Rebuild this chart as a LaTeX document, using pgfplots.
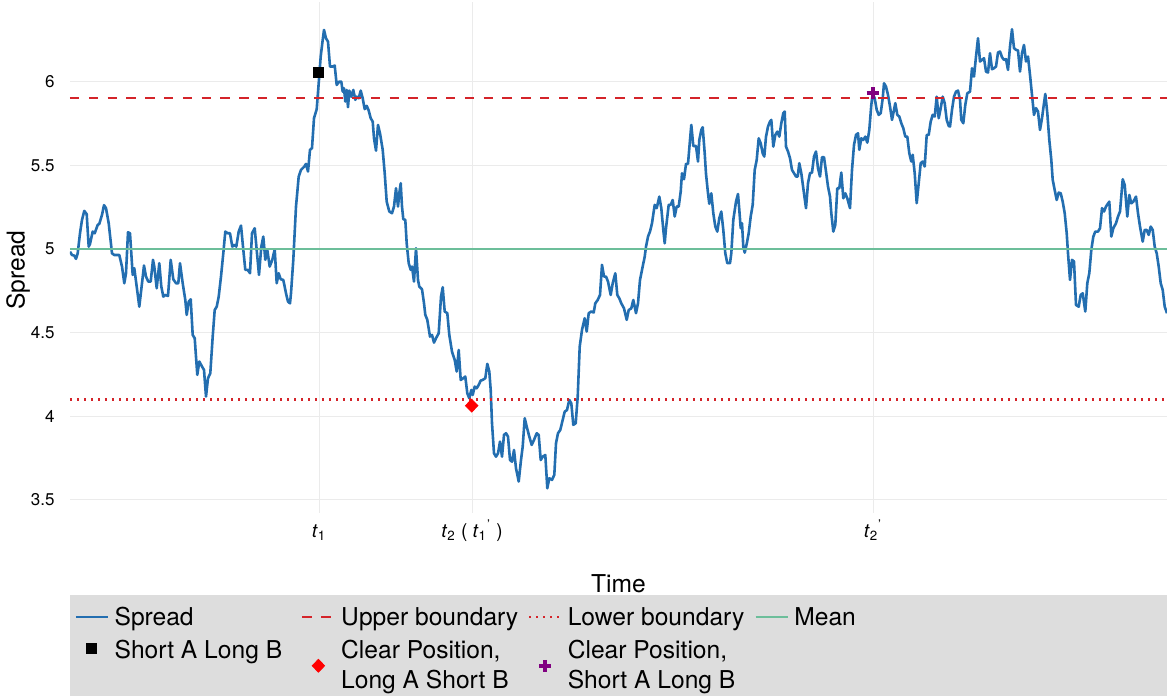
\documentclass[border=0pt]{standalone}
\usepackage{fontspec}
\setmainfont{TeX Gyre Heros}
\usepackage{pgfplots}
\usepackage{pgfplotstable}
\pgfplotsset{compat=1.18}

\definecolor{spreadblue}{RGB}{35,110,176}
\definecolor{bndred}{RGB}{212,36,42}
\definecolor{meangreen}{RGB}{108,190,154}
\definecolor{clearpurple}{RGB}{128,0,128}
\definecolor{legendgray}{RGB}{221,221,221}
\definecolor{gridgray}{RGB}{235,235,235}

% legend keys: lines sit on the text middle, marks above/below the baseline
\pgfplotsset{
  keyline/.style={legend image code/.code={\draw[##1, line width=0.8pt] (0pt,4.3pt) -- (16pt,4.3pt);}},
  keymarkhi/.style={legend image code/.code={\path (0pt,0pt) (16pt,0pt); \draw[##1] plot coordinates {(8pt,5pt)};}},
  keymarklo/.style={legend image code/.code={\path (0pt,0pt) (16pt,0pt); \draw[##1] plot coordinates {(8pt,-3.5pt)};}},
}

% spread series (time in px units, value)
\pgfplotstableread{
x y
70.0 4.985
72.0 4.965
74.3 4.961
76.0 4.942
77.7 4.975
80.0 5.095
82.0 5.175
84.3 5.229
86.7 5.209
88.7 5.015
90.0 5.031
92.7 5.105
94.7 5.095
97.7 5.145
99.3 5.151
102.0 5.205
104.0 5.263
106.0 5.245
108.7 5.155
112.0 4.975
114.3 4.965
119.3 4.965
122.0 4.896
124.3 4.796
126.0 4.856
128.0 5.101
130.0 5.095
132.7 4.846
134.3 4.886
136.7 4.776
139.3 4.656
142.0 4.796
144.0 4.902
146.0 4.836
148.3 4.806
150.7 4.806
153.0 4.936
154.3 4.896
156.7 4.766
159.3 4.916
161.3 4.776
163.3 4.716
165.3 4.726
168.0 4.720
170.7 4.936
173.3 4.820
176.0 4.796
178.3 4.796
180.0 4.916
182.7 4.796
185.3 4.696
186.7 4.607
188.7 4.686
190.7 4.700
192.7 4.487
194.7 4.467
197.3 4.248
199.3 4.328
202.0 4.298
204.0 4.278
206.0 4.118
208.0 4.228
210.3 4.258
212.7 4.477
214.7 4.636
216.7 4.656
218.7 4.716
221.0 4.836
223.3 4.975
225.3 5.105
227.7 5.095
230.0 5.095
232.3 5.015
234.3 5.025
236.3 5.015
238.7 5.105
241.0 5.141
243.0 5.015
245.3 4.876
247.7 4.876
250.0 4.856
252.0 5.095
254.7 5.125
256.7 4.995
259.0 4.846
261.3 5.015
263.3 5.075
265.3 4.936
267.3 4.995
269.7 4.896
272.3 4.936
274.7 4.999
276.7 4.796
278.7 4.856
280.7 4.820
283.3 4.816
286.0 4.736
288.0 4.686
290.0 4.676
291.0 4.736
293.3 4.936
296.0 5.255
298.7 5.434
301.0 5.474
304.3 5.494
306.0 5.510
308.0 5.464
310.0 5.594
312.0 5.604
314.0 5.783
316.7 5.837
318.7 5.992
320.7 6.152
322.7 6.251
324.0 6.311
326.0 6.261
328.0 6.241
330.0 6.092
332.7 6.092
334.7 6.098
336.7 5.982
339.3 6.002
341.3 6.002
342.7 5.942
344.0 5.962
345.3 5.883
346.7 5.952
348.0 5.849
349.3 5.948
351.3 5.912
353.3 5.952
355.3 5.893
356.7 5.912
358.7 5.902
360.7 5.948
362.7 5.902
364.7 5.837
366.7 5.857
368.7 5.829
370.7 5.783
372.7 5.763
374.0 5.663
376.0 5.589
378.0 5.743
380.0 5.693
382.7 5.594
384.7 5.454
386.7 5.284
389.3 5.225
392.0 5.215
394.0 5.255
396.0 5.364
398.0 5.255
399.3 5.334
400.7 5.394
402.0 5.255
403.3 5.179
405.3 5.175
406.7 5.035
408.7 4.916
410.7 4.876
412.0 4.896
414.0 4.806
416.0 5.005
418.0 4.816
419.3 4.776
422.0 4.760
424.0 4.676
425.3 4.607
427.3 4.577
430.0 4.477
432.0 4.487
434.0 4.441
436.0 4.467
438.7 4.497
441.0 4.716
442.7 4.772
444.7 4.627
447.3 4.617
449.3 4.487
452.0 4.387
454.7 4.338
456.7 4.268
458.7 4.397
460.7 4.218
463.3 4.228
465.3 4.238
467.3 4.138
469.3 4.108
471.3 4.158
472.7 4.128
474.7 4.178
476.7 4.168
478.7 4.188
480.7 4.214
482.7 4.218
485.3 4.228
487.3 4.314
489.3 4.268
490.7 4.158
492.0 3.959
494.0 3.779
496.0 3.759
498.0 3.779
500.0 3.849
502.0 3.759
504.0 3.889
506.0 3.899
508.0 3.879
510.0 3.739
512.0 3.729
514.0 3.799
516.0 3.690
518.7 3.610
521.0 3.739
522.7 3.819
524.7 3.989
526.7 3.939
529.3 3.879
531.7 3.829
534.0 3.859
536.7 3.899
538.7 3.889
540.7 3.739
542.7 3.759
545.3 3.769
547.3 3.570
549.3 3.630
552.0 3.620
554.3 3.650
556.0 3.839
558.0 3.899
560.3 3.919
562.7 3.979
564.7 4.028
567.0 4.038
569.3 4.098
571.3 4.078
573.3 3.949
575.7 3.959
577.7 4.118
579.7 4.417
582.0 4.517
584.7 4.587
586.7 4.507
588.7 4.617
591.3 4.627
593.7 4.621
595.3 4.676
597.7 4.696
600.0 4.726
602.0 4.906
604.0 4.836
606.0 4.836
608.0 4.806
610.7 4.726
612.7 4.796
615.3 4.856
617.3 4.726
619.3 4.706
621.3 4.676
624.0 4.646
626.7 4.577
628.7 4.636
631.3 4.646
633.3 4.696
636.0 4.617
638.0 4.676
640.0 4.816
642.7 4.896
644.7 4.955
646.0 5.015
648.0 5.075
650.0 5.105
652.0 5.155
654.7 5.265
656.7 5.245
659.3 5.314
661.3 5.245
663.3 5.115
664.7 5.035
666.0 5.125
668.7 5.265
670.7 5.265
672.7 5.294
674.7 5.195
676.7 5.255
678.7 5.255
680.7 5.344
682.0 5.454
684.0 5.418
686.0 5.510
688.0 5.510
690.0 5.653
691.3 5.743
693.3 5.617
696.0 5.617
698.0 5.524
699.3 5.653
701.3 5.713
702.7 5.729
704.7 5.573
706.0 5.450
708.0 5.334
709.3 5.271
711.3 5.334
713.3 5.215
715.3 5.135
717.3 5.105
719.3 5.185
721.3 5.225
723.3 5.115
725.3 4.975
727.3 4.916
730.0 4.916
731.3 4.975
733.3 5.175
736.0 5.284
738.0 5.330
739.3 5.235
740.7 5.125
742.0 5.155
743.3 5.015
744.7 4.979
746.7 5.031
748.7 5.095
750.7 5.195
752.7 5.265
754.7 5.474
756.7 5.534
758.7 5.663
760.7 5.633
762.7 5.573
764.3 5.554
766.0 5.673
768.0 5.733
770.0 5.763
771.3 5.773
773.3 5.613
775.3 5.683
777.3 5.703
779.3 5.673
781.3 5.753
783.3 5.813
784.7 5.823
786.0 5.613
788.0 5.584
790.0 5.544
792.0 5.474
794.0 5.454
796.0 5.434
797.7 5.434
799.3 5.514
801.3 5.454
803.3 5.364
806.0 5.245
808.0 5.394
810.0 5.454
812.0 5.458
814.0 5.554
816.0 5.584
818.0 5.484
820.0 5.434
822.0 5.550
824.0 5.550
826.0 5.464
828.0 5.374
830.0 5.314
831.3 5.215
833.3 5.105
835.3 5.145
837.3 5.364
839.3 5.364
841.3 5.458
843.3 5.304
845.3 5.334
847.3 5.304
850.0 5.245
852.0 5.474
854.0 5.623
856.0 5.683
858.0 5.693
859.3 5.594
861.3 5.663
863.3 5.653
865.3 5.673
867.3 5.637
869.3 5.713
871.3 5.863
872.7 5.932
874.7 5.902
876.7 5.833
878.7 5.803
880.7 5.813
882.7 5.902
884.0 5.992
886.0 5.972
888.0 5.922
890.0 5.853
892.0 5.773
894.0 5.833
895.3 5.873
897.3 5.803
899.3 5.793
901.3 5.753
903.3 5.723
905.3 5.673
907.3 5.673
909.3 5.573
911.3 5.524
912.7 5.564
914.7 5.454
916.7 5.275
918.7 5.394
920.7 5.514
922.7 5.524
924.7 5.494
926.7 5.683
928.7 5.683
930.7 5.763
932.7 5.803
934.7 5.793
936.7 5.912
938.7 5.783
940.7 5.843
942.7 5.912
944.7 5.873
946.7 5.773
948.7 5.737
950.0 5.733
952.0 5.833
954.0 5.912
956.0 5.942
958.0 5.948
960.0 5.893
961.3 5.773
963.3 5.753
965.3 5.863
967.3 5.932
970.0 5.942
972.0 6.082
974.0 6.032
976.0 6.152
978.0 6.261
980.0 6.122
982.0 6.132
984.0 6.142
986.0 6.062
988.0 6.056
990.0 6.172
992.0 6.076
994.0 6.082
996.0 6.092
998.0 6.176
1000.0 6.182
1002.0 6.148
1004.0 6.132
1006.0 6.136
1008.0 6.072
1010.0 6.212
1012.0 6.315
1014.0 6.202
1016.0 6.192
1018.0 6.188
1020.0 6.062
1022.0 6.172
1024.0 6.221
1026.0 6.122
1028.0 6.152
1030.0 6.042
1032.0 5.922
1034.0 5.803
1036.0 5.843
1038.0 5.823
1040.0 5.713
1042.0 5.783
1044.0 5.873
1045.3 5.928
1047.3 5.813
1049.3 5.653
1051.3 5.534
1052.7 5.414
1054.7 5.354
1056.7 5.294
1058.7 5.338
1060.7 5.334
1062.7 5.284
1064.7 5.215
1066.7 5.095
1068.0 4.975
1070.0 4.816
1072.0 4.936
1074.0 4.926
1076.0 4.666
1078.7 4.656
1080.7 4.726
1082.7 4.736
1085.3 4.627
1087.3 4.796
1089.3 4.856
1091.3 4.995
1093.3 5.075
1095.3 5.105
1098.0 5.105
1100.0 5.125
1102.0 5.245
1104.0 5.225
1106.0 5.255
1109.3 5.284
1111.3 5.075
1113.3 5.125
1116.0 5.155
1118.0 5.195
1120.0 5.225
1122.7 5.418
1124.7 5.384
1127.3 5.195
1129.3 5.324
1131.3 5.274
1133.3 5.284
1136.0 5.314
1138.0 5.215
1140.0 5.135
1142.7 5.045
1144.7 5.115
1146.7 5.115
1148.7 5.085
1150.7 5.135
1152.7 5.115
1154.7 5.015
1156.7 4.975
1158.7 4.896
1160.7 4.796
1162.7 4.756
1164.7 4.656
1167.0 4.617
}\spreaddata

\begin{document}
\begin{tikzpicture}
\useasboundingbox (0pt,0pt) rectangle (583.5pt,349pt);
\fill[legendgray] (35pt,1pt) rectangle (583.5pt,51.5pt);
\begin{axis}[
  at={(35pt,92.5pt)}, anchor=south west,
  scale only axis, width=548.5pt, height=255.5pt,
  xmin=70, xmax=1167, ymin=3.422, ymax=6.478,
  axis line style={draw=none},
  major tick length=0pt,
  xtick={319,472,873},
  xticklabels={{\textit{t}\textsubscript{1}},
    {\textit{t}\textsubscript{2} ( \textit{t}\textsubscript{1}\textsuperscript{'} )},
    {\textit{t}\textsubscript{2}\textsuperscript{'}}},
  ytick={3.5,4,4.5,5,5.5,6},
  grid=major,
  major grid style={gridgray, line width=0.5pt},
  /pgf/number format/assume math mode=true,
  yticklabel style={font=\fontsize{8.5}{10}\selectfont, anchor=east, inner sep=0pt, xshift=-7.5pt},
  xticklabel style={font=\fontsize{9.5}{11}\selectfont, anchor=base, inner sep=0pt, yshift=-12pt},
  xlabel={Time},
  xlabel style={font=\fontsize{12.3}{14}\selectfont, at={(axis description cs:0.5,-0.1546)}, anchor=base, inner sep=0pt},
  ylabel={Spread},
  ylabel style={font=\fontsize{12.3}{14}\selectfont, at={(axis description cs:-0.0474,0.4755)}, anchor=center, inner sep=0pt},
  legend columns=4,
  legend cell align=left,
  legend style={at={(axis description cs:0,0)}, anchor=north west, xshift=2.5pt, yshift=-47pt,
    draw=none, fill=none, inner sep=0pt, outer sep=0pt,
    font=\fontsize{12.3}{15}\selectfont, row sep=6pt, column sep=0pt,
    nodes={inner sep=0pt, anchor=base west},
    /tikz/every odd column/.append style={column sep=3pt}},
]
\addplot[spreadblue, line width=1.3pt, line join=round, no markers, keyline] table {\spreaddata};
\addlegendentry{\makebox[93.5pt][l]{\rule[-3pt]{0pt}{10pt}Spread}}
\addplot[bndred, line width=1.2pt, dash pattern=on 4.7pt off 4.7pt, no markers, keyline] coordinates {(70,5.905) (1167,5.905)};
\addlegendentry{\makebox[93.5pt][l]{\rule[-3pt]{0pt}{10pt}Upper boundary}}
\addplot[bndred, line width=1.2pt, dash pattern=on 1.2pt off 2.3pt, no markers, keyline] coordinates {(70,4.1) (1167,4.1)};
\addlegendentry{\makebox[93.5pt][l]{\rule[-3pt]{0pt}{10pt}Lower boundary}}
\addplot[meangreen, line width=1.2pt, no markers, keyline] coordinates {(70,5.0) (1167,5.0)};
\addlegendentry{\rule[-3pt]{0pt}{10pt}Mean}
\addplot[only marks, mark=square*, black, mark size=2.5pt, keymarkhi] coordinates {(318.7,6.058)};
\addlegendentry{\makebox[93.5pt][l]{\rule[-3pt]{0pt}{10pt}Short A Long B}}
\addplot[only marks, mark=diamond*, red, mark size=3.2pt, mark options={xscale=1.3}, keymarklo] coordinates {(471.7,4.064)};
\addlegendentry{\parbox[t]{93.5pt}{\rule[-3pt]{0pt}{10pt}Clear Position,\newline Long A Short B}}
\addplot[only marks, mark=+, clearpurple, mark size=3pt, mark options={line width=1.8pt}, keymarklo] coordinates {(872.7,5.932)};
\addlegendentry{\parbox[t]{93.5pt}{\rule[-3pt]{0pt}{10pt}Clear Position,\newline Short A Long B}}
\end{axis}
\end{tikzpicture}
\end{document}
